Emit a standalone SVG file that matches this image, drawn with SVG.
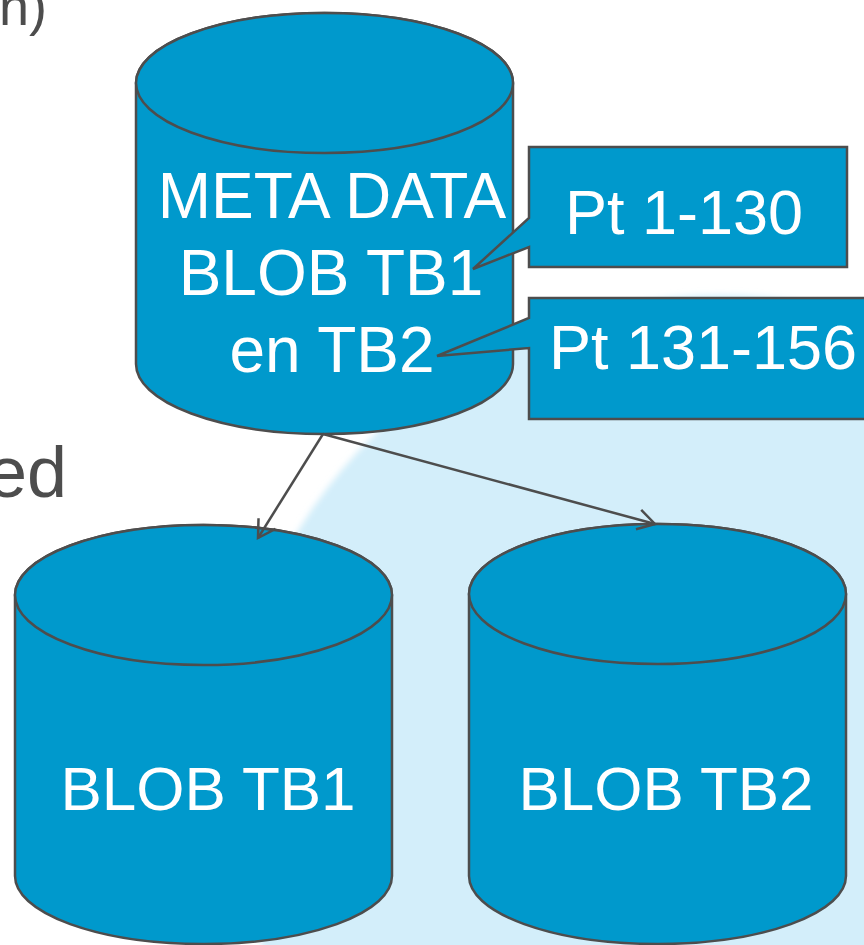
<svg xmlns="http://www.w3.org/2000/svg" width="864" height="945" viewBox="0 0 864 945">
  <style>
    .cyl { fill: #0099CC; stroke: #4D4D4D; stroke-width: 2.5; }
    .lbl { font-family: "Liberation Sans", Arial, sans-serif; font-size: 62px; fill: #FFFFFF; text-anchor: middle; }
    .big { font-size: 64px; }
    .mid { font-size: 63px; }
    .side { font-family: "Liberation Sans", Arial, sans-serif; fill: #4D4D4D; text-anchor: end; }
    .conn { fill: none; stroke: #4D4D4D; stroke-width: 2.5; }
  </style>
  <defs>
    <filter id="soft" x="-10%" y="-10%" width="120%" height="120%">
      <feGaussianBlur stdDeviation="3"/>
    </filter>
    <marker id="arrow" markerUnits="userSpaceOnUse" markerWidth="40" markerHeight="40" refX="0" refY="0" viewBox="-20 -20 40 40" orient="auto">
      <path d="M-17,-10 L0,0 L-17,10" fill="none" stroke="#4D4D4D" stroke-width="2.5"/>
    </marker>
  </defs>
  <rect x="0" y="0" width="864" height="945" fill="#FFFFFF"/>
  <ellipse cx="720" cy="775" rx="490" ry="480" fill="#D3EEFA" filter="url(#soft)"/>

  <text class="side" x="47" y="25" font-size="54">n)</text>
  <text class="side" x="67" y="497" font-size="72">ed</text>

  <g id="meta">
    <path class="cyl" d="M136,83 L136,364 A188.5,70 0 0 0 513,364 L513,83 A188.5,70 0 0 0 136,83 Z"/>
    <ellipse class="cyl" cx="324.5" cy="83" rx="188.5" ry="70"/>
    <text class="lbl big" x="332" y="218">META DATA</text>
    <text class="lbl big" x="331" y="295">BLOB TB1</text>
    <text class="lbl big" x="332" y="372">en TB2</text>
  </g>

  <g id="callout1">
    <path class="cyl" d="M529,147 L847,147 L847,267 L529,267 L529,247 L473,269 L529,218 Z"/>
    <text class="lbl mid" x="684" y="234">Pt 1-130</text>
  </g>

  <g id="callout2">
    <path class="cyl" d="M529,298 L875,298 L875,419 L529,419 L529,348 L437,356 L529,318 Z"/>
    <text class="lbl mid" x="703" y="369">Pt 131-156</text>
  </g>

  <g id="blob1">
    <path class="cyl" d="M15,595 L15,876 A188.5,68 0 0 0 392,876 L392,595 A188.5,70 0 0 0 15,595 Z"/>
    <ellipse class="cyl" cx="203.5" cy="595" rx="188.5" ry="70"/>
    <text class="lbl" x="208" y="810">BLOB TB1</text>
  </g>

  <g id="blob2">
    <path class="cyl" d="M469,594 L469,876 A188.5,68 0 0 0 846,876 L846,594 A188.5,70 0 0 0 469,594 Z"/>
    <ellipse class="cyl" cx="657.5" cy="594" rx="188.5" ry="70"/>
    <text class="lbl" x="666" y="810">BLOB TB2</text>
  </g>

  <g id="connectors">
    <line class="conn" x1="323" y1="434" x2="258" y2="538" marker-end="url(#arrow)"/>
    <line class="conn" x1="323" y1="434" x2="655" y2="524" marker-end="url(#arrow)"/>
  </g>
</svg>
